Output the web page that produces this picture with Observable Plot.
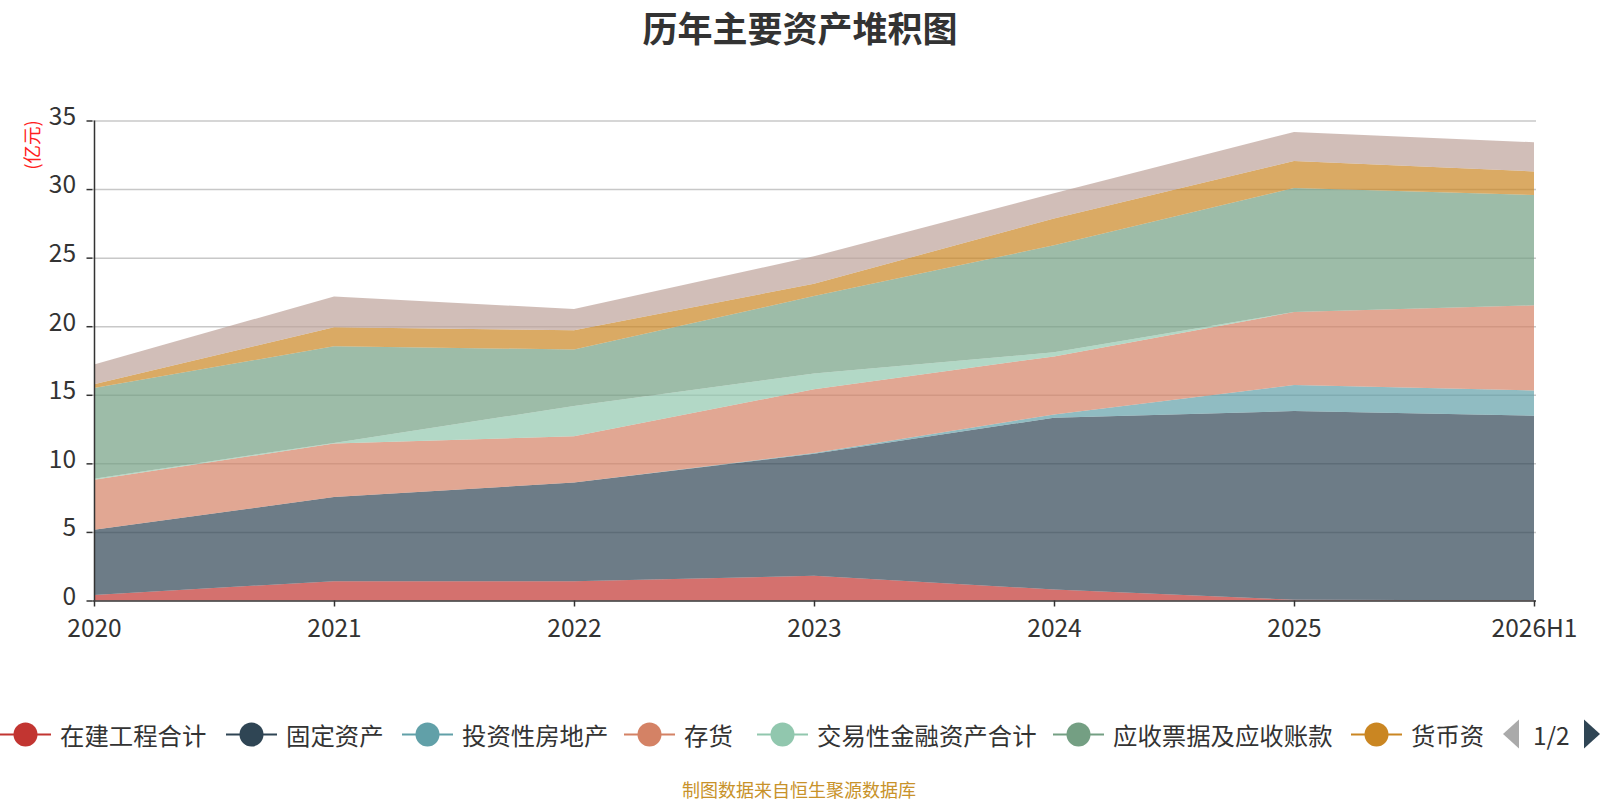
<!DOCTYPE html>
<html>
<head>
<meta charset="utf-8">
<script src="https://cdn.jsdelivr.net/npm/d3@7"></script>
<script src="https://cdn.jsdelivr.net/npm/@observablehq/plot@0.6"></script>
<style>
  html, body { margin: 0; padding: 0; background: #fff; }
  body { width: 1600px; height: 800px; position: relative; overflow: hidden;
         font-family: "Noto Sans CJK SC", "Noto Sans", sans-serif; color: #333; }
  #title { position: absolute; top: 26px; left: 800px; transform: translate(-50%, -50%);
           font-size: 35px; font-weight: bold; color: #333; white-space: nowrap; }
  #ylabel { position: absolute; left: 31px; top: 145px; transform: translate(-50%, -50%) rotate(-90deg);
            color: #ff2020; font-size: 18.5px; white-space: nowrap; }
  #chart { position: absolute; left: 0; top: 0; }
  .leg { position: absolute; top: 734px; transform: translateY(-50%); display: flex; align-items: center;
         font-size: 24.4px; color: #333; white-space: nowrap; }
  .leg svg { display: block; }
  #caption { position: absolute; top: 789px; left: 799px; transform: translate(-50%, -50%);
             font-size: 18px; color: #c8922a; white-space: nowrap; }
  #pager { position: absolute; top: 734px; left: 1502px; transform: translateY(-50%);
           display: flex; align-items: center; font-size: 24.4px; color: #333; }
</style>
</head>
<body>
<div id="title">历年主要资产堆积图</div>
<div id="chart"></div>
<div id="ylabel">(亿元)</div>
<div id="legend"></div>
<div id="pager">
  <svg width="18" height="31"><polygon points="17,1 17,30 1,15.5" fill="#aaaaaa"/></svg>
  <span style="margin-left:13px;margin-right:13px">1/2</span>
  <svg width="18" height="31"><polygon points="1,1 1,30 17,15.5" fill="#2f4554"/></svg>
</div>
<div id="caption">制图数据来自恒生聚源数据库</div>
<script>
// ---- data ----
const years = ["2020", "2021", "2022", "2023", "2024", "2025", "2026H1"];
const seriesNames = ["在建工程合计", "固定资产", "投资性房地产", "存货", "交易性金融资产合计", "应收票据及应收账款", "货币资金", "其他资产"];
const legendLabels = ["在建工程合计", "固定资产", "投资性房地产", "存货", "交易性金融资产合计", "应收票据及应收账款", "货币资"];
const seriesColors = ["#c23531", "#2f4554", "#61a0a8", "#d48265", "#91c7ae", "#749f83", "#ca8622", "#bda29a"];

const zaijian   = [0.41, 1.41, 1.40, 1.80, 0.80, 0.05, 0.02];
const guding    = [4.75, 6.13, 7.20, 8.90, 12.53, 13.76, 13.45];
const touzi     = [0.00, 0.00, 0.00, 0.05, 0.24, 1.90, 1.85];
const cunhuo    = [3.65, 3.90, 3.37, 4.65, 4.23, 5.32, 6.20];
const jiaoyi    = [0.07, 0.05, 2.21, 1.15, 0.30, 0.00, 0.00];
const yingshou  = [6.62, 7.05, 4.12, 5.65, 7.80, 9.04, 8.04];
const huobi     = [0.27, 1.39, 1.40, 0.90, 1.95, 1.98, 1.73];
const qita      = [1.43, 2.24, 1.55, 2.00, 1.85, 2.12, 2.12];

const yTicks = [0, 5, 10, 15, 20, 25, 30, 35];

const seriesValues = [zaijian, guding, touzi, cunhuo, jiaoyi, yingshou, huobi, qita];
const data = [];
seriesNames.forEach((s, i) => years.forEach((y, j) => data.push({year: y, series: s, value: seriesValues[i][j]})));

const chart = Plot.plot({
  width: 1600,
  height: 650,
  marginTop: 120.5,
  marginBottom: 49.5,
  marginLeft: 92.5,
  marginRight: 64,
  style: {fontFamily: '"Noto Sans CJK SC", "Noto Sans", sans-serif', color: "#333", background: "transparent"},
  x: {type: "point", domain: years, padding: 0},
  y: {domain: [0, 35]},
  color: {domain: seriesNames, range: seriesColors},
  marks: [
    Plot.ruleY(yTicks.slice(1), {stroke: "#c8c8c8", strokeWidth: 1.5}),
    Plot.areaY(data, {x: "year", y: "value", fill: "series", fillOpacity: 0.7, order: seriesNames, curve: "linear"}),
    Plot.axisY({ticks: yTicks, tickSize: 6, text: null, label: null, stroke: "#333", strokeWidth: 1.5}),
    Plot.axisY({ticks: yTicks, tickSize: 0, tickPadding: 17, fontSize: 24.5, dy: -4, label: null}),
    Plot.axisX({tickSize: 6, tickPadding: 13, fontSize: 24.5, label: null, stroke: "#333", strokeWidth: 1.5}),
    Plot.ruleY([0], {stroke: "#333", strokeWidth: 1.5}),
    Plot.ruleX([years[0]], {stroke: "#333", strokeWidth: 1.5})
  ]
});
document.getElementById("chart").appendChild(chart);

// ---- legend ----
const legendIconX = [0, 226, 402, 624, 757, 1053, 1351];
const legend = document.getElementById("legend");
legendLabels.forEach((label, i) => {
  const div = document.createElement("div");
  div.className = "leg";
  div.style.left = legendIconX[i] + "px";
  const c = seriesColors[i];
  div.innerHTML = `<svg width="51" height="26"><line x1="0" y1="13" x2="51" y2="13" stroke="${c}" stroke-width="2"/><circle cx="25.5" cy="13" r="12" fill="${c}"/></svg><span style="margin-left:9px">${label}</span>`;
  legend.appendChild(div);
});
</script>
</body>
</html>
